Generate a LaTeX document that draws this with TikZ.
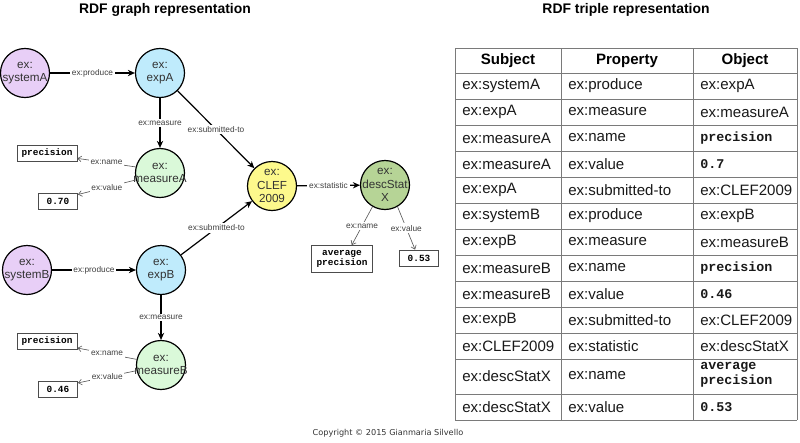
\documentclass[tikz,border=0pt]{standalone}
\usepackage{fontspec}
\setmainfont{Liberation Sans}
\setmonofont{Liberation Mono}
\newfontfamily\cpfont{DejaVu Sans}
\usetikzlibrary{arrows.meta}

\definecolor{sysfill}{HTML}{E8CFF7}
\definecolor{expfill}{HTML}{BFEBFC}
\definecolor{msrfill}{HTML}{DAF9D9}
\definecolor{cleffill}{HTML}{FDF98C}
\definecolor{statfill}{HTML}{B6D496}
\definecolor{restxt}{HTML}{333333}
\definecolor{gridgray}{HTML}{7A7A7A}

% zero-width lines so long names may spill over the circle
\newcommand{\zw}[1]{\makebox[0pt]{#1}}
\newcommand{\litv}[1]{{\ttfamily\bfseries\fontsize{9.5}{10.6}\selectfont #1}}

\begin{document}
\begin{tikzpicture}[
  x=0.025cm, y=-0.025cm,
  res/.style    = {circle, draw=black, line width=0.85pt, minimum size=1.225cm,
                   inner sep=0pt, align=center, text=restxt,
                   font=\fontsize{8.3}{9.4}\selectfont},
  lit/.style    = {rectangle, draw=black!70, line width=0.6pt, minimum height=0.4cm,
                   inner xsep=2pt, inner ysep=1pt, align=center,
                   font=\fontsize{6.7}{7.6}\selectfont\ttfamily\bfseries},
  rel/.style    = {-{Stealth[length=5pt,width=4.5pt]}, line width=0.85pt, black},
  attr/.style   = {-{Straight Barb[length=2.5pt,width=4pt]}, line width=0.45pt, black!65},
  elab/.style   = {font=\fontsize{5.9}{7}\selectfont, text=black!75, fill=white, inner sep=1.2pt},
  heading/.style= {font=\fontsize{9.9}{12}\selectfont\bfseries},
  grid/.style   = {draw=gridgray, line width=0.6pt},
  cell/.style   = {anchor=west, inner sep=0pt, text=black!90,
                   font=\fontsize{10.7}{12.5}\selectfont},
  head/.style   = {inner sep=0pt, font=\fontsize{10.7}{12.5}\selectfont\bfseries},
]
\useasboundingbox (0,0) rectangle (800,442);

% Titles
\node[heading] (gtitle) at (165,10) {RDF graph representation};
\node[heading] (ttitle) at (626,10) {RDF triple representation};

% Resources
\node[res, fill=sysfill]  (sysA) at (25,73)   {\zw{ex:}\\\zw{systemA}};
\node[res, fill=expfill]  (expA) at (160,73)  {\zw{ex:}\\\zw{expA}};
\node[res, fill=msrfill]  (msrA) at (160,173) {\zw{ex:}\\\zw{measureA}};
\node[res, fill=cleffill] (clef) at (272,186) {\zw{ex:}\\\zw{CLEF}\\\zw{2009}};
\node[res, fill=statfill] (stat) at (385,185) {\zw{ex:}\\\zw{descStat}\\\zw{X}};
\node[res, fill=sysfill]  (sysB) at (27,270)  {\zw{ex:}\\\zw{systemB}};
\node[res, fill=expfill]  (expB) at (161,270) {\zw{ex:}\\\zw{expB}};
\node[res, fill=msrfill]  (msrB) at (161,365) {\zw{ex:}\\\zw{measureB}};

% Literals
\node[lit, minimum width=1.5cm]   (precA) at (47,153)  {precision};
\node[lit, minimum width=0.975cm] (valA)  at (58,201)  {0.70};
\node[lit, minimum width=1.5cm]   (precB) at (47,341)  {precision};
\node[lit, minimum width=0.975cm] (valB)  at (58,389)  {0.46};
\node[lit, minimum width=1.525cm, minimum height=0.675cm] (avgP) at (342,259) {average\\precision};
\node[lit, minimum width=0.975cm] (val53) at (419,258) {0.53};

% Properties between resources
\draw[rel] (sysA) -- node[elab] {ex:produce} (expA);
\draw[rel] (expA) -- node[elab] {ex:measure} (msrA);
\draw[rel] (expA) -- node[elab] {ex:submitted-to} (clef);
\draw[rel] (sysB) -- node[elab] {ex:produce} (expB);
\draw[rel] (expB) -- node[elab] {ex:measure} (msrB);
\draw[rel] (expB) -- node[elab] {ex:submitted-to} (clef);
\draw[rel] (clef) -- node[elab] {ex:statistic} (stat);

% Properties to literals
\draw[attr] (msrA.166) -- node[elab] {ex:name} (precA.-10);
\draw[attr] (msrA.196) -- node[elab] {ex:value} (valA.18);
\draw[attr] (msrB.167) -- node[elab] {ex:name} (precB.-13);
\draw[attr] (msrB.193) -- node[elab] {ex:value} (valB.17);
\draw[attr] (stat.-120) -- node[elab] {ex:name} (avgP.55);
\draw[attr] (stat.-60) -- node[elab] {ex:value} (val53.115);

% Triple table
\foreach \ly in {48,73,99,125,151,177,203,229,255,281,307,333,359,394,420}
  \draw[grid] (455,\ly) -- (797,\ly);
\foreach \lx in {455,561,693,797}
  \draw[grid] (\lx,48) -- (\lx,420);

\node[head] (hsub) at (508,61) {Subject};
\node[head] (hpro) at (627,61) {Property};
\node[head] (hobj) at (745,61) {Object};

\foreach \ry/\sub/\pro/\obj [count=\i] in {
    86/systemA/produce/{ex:expA},
    112/expA/measure/{ex:measureA},
    138/measureA/name/{\litv{precision}},
    164/measureA/value/{\litv{0.7}},
    190/expA/submitted-to/{ex:CLEF2009},
    216/systemB/produce/{ex:expB},
    242/expB/measure/{ex:measureB},
    268/measureB/name/{\litv{precision}},
    294/measureB/value/{\litv{0.46}},
    320/expB/submitted-to/{ex:CLEF2009},
    346/CLEF2009/statistic/{ex:descStatX},
    407/descStatX/value/{\litv{0.53}}}{
  \node[cell] (sub\i) at (462,\ry) {ex:\sub};
  \node[cell] (pro\i) at (568,\ry) {ex:\pro};
  \node[cell] (obj\i) at (700,\ry) {\obj};
}
\node[cell] (subN) at (462,376) {ex:descStatX};
\node[cell] (proN) at (568,376) {ex:name};
\node[cell, align=left, font=\fontsize{9.5}{10.6}\selectfont\ttfamily\bfseries] (objN) at (700,375) {average\\precision};

% Footer
\node[font=\cpfont\fontsize{5.8}{7}\selectfont, text=black!80] (copy) at (388,433)
  {Copyright \textcopyright{} 2015 Gianmaria Silvello};
\end{tikzpicture}
\end{document}
